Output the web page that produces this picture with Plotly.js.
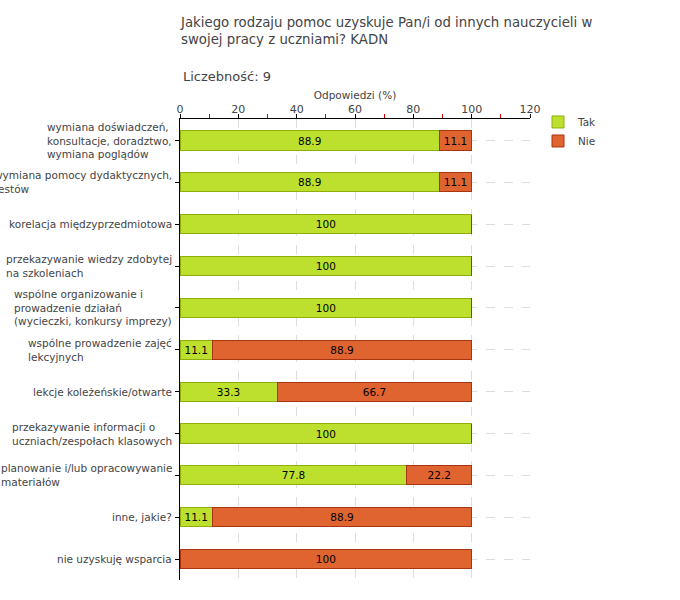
<!DOCTYPE html>
<html><head><meta charset="utf-8">
<script src="https://cdn.plot.ly/plotly-3.0.1.min.js"></script>
<style>html,body{margin:0;padding:0;background:#fff;}#chart{width:680px;height:600px;}</style>
</head><body><div id="chart"></div>
<script>
const categories = [
  "wymiana doświadczeń,<br>konsultacje, doradztwo,<br>wymiana poglądów",
  "wymiana pomocy dydaktycznych,<br>testów",
  "korelacja międzyprzedmiotowa",
  "przekazywanie wiedzy zdobytej<br>na szkoleniach",
  "wspólne organizowanie i<br>prowadzenie działań<br>(wycieczki, konkursy imprezy)",
  "wspólne prowadzenie zajęć<br>lekcyjnych",
  "lekcje koleżeńskie/otwarte",
  "przekazywanie informacji o<br>uczniach/zespołach klasowych",
  "planowanie i/lub opracowywanie<br>materiałów",
  "inne, jakie?",
  "nie uzyskuję wsparcia"
];
const tak = [88.9, 88.9, 100, 100, 100, 11.1, 33.3, 100, 77.8, 11.1, 0];
const nie = [11.1, 11.1, 0, 0, 0, 88.9, 66.7, 0, 22.2, 88.9, 100];
const seriesNames = ["Tak", "Nie"];
const xTicks = [0, 20, 40, 60, 80, 100, 120];

const font = "DejaVu Sans, sans-serif";
const lbl = v => v.map(x => x > 0 ? String(x) : "");

const traces = [
  {type:'bar', orientation:'h', name:seriesNames[0], y:categories, x:tak,
   text:lbl(tak), textposition:'inside', insidetextanchor:'middle', textangle:0,
   textfont:{family:font, size:10.5, color:'#000'},
   marker:{color:'#BDE02F', line:{color:'#8FAE0A', width:1}}},
  {type:'bar', orientation:'h', name:seriesNames[1], y:categories, x:nie,
   text:lbl(nie), textposition:'inside', insidetextanchor:'middle', textangle:0,
   textfont:{family:font, size:10.5, color:'#000'},
   marker:{color:'#E0642F', line:{color:'#A83510', width:1}}}
];

const annotations = categories.map(c => ({
  xref:'paper', yref:'y', x:-0.016, y:c, text:c, showarrow:false,
  xanchor:'right', yanchor:'middle', align:'left',
  font:{family:font, size:10.5, color:'#444'}
}));
annotations.push({xref:'paper', yref:'paper', x:(181-180)/350, y:(119-76)/461 + 1,
  text:"Liczebność: 9", showarrow:false, xanchor:'left', yanchor:'middle',
  font:{family:font, size:13, color:'#444'}});

const layout = {
  width:680, height:600,
  margin:{l:180, r:150, t:119, b:20},
  paper_bgcolor:'#fff', plot_bgcolor:'#fff',
  barmode:'stack', bargap:0.54,
  showlegend:true,
  title:{text:"Jakiego rodzaju pomoc uzyskuje Pan/i od innych nauczycieli w<br>swojej pracy z uczniami? KADN",
    xref:'container', yref:'container', x:181/680, xanchor:'left', y:1-27/600, yanchor:'top',
    font:{family:font, size:13.3, color:'#444'}},
  font:{family:font, color:'#444'},
  xaxis:{side:'top', range:[0,120], tickvals:xTicks, ticktext:xTicks.map(String),
    showline:true, linecolor:'#000', linewidth:1, ticks:'outside', ticklen:4, tickcolor:'#000',
    ticklabelstandoff:-3,
    minor:{tickvals:[10,30,50,70,90,110], ticks:'outside', ticklen:4, tickcolor:'#e00000', showgrid:false},
    showgrid:true, gridcolor:'#dddddd', griddash:'dash', zeroline:false,
    tickfont:{family:font, size:11, color:'#444'},
    title:{text:"Odpowiedzi (%)", font:{family:font, size:10.5, color:'#444'}, standoff:0}},
  yaxis:{autorange:'reversed', type:'category', showticklabels:false,
    showline:true, linecolor:'#000', linewidth:1, ticks:'outside', ticklen:4, tickcolor:'#000',
    showgrid:true, gridcolor:'#dddddd', griddash:'dash', zeroline:false},
  legend:{x:(538-180)/350, xanchor:'left', y:1.025, yanchor:'top', bgcolor:'rgba(0,0,0,0)',
    traceorder:'normal', font:{family:font, size:10.5, color:'#444'}, itemwidth:30, tracegroupgap:0},
  annotations:annotations
};
Plotly.newPlot('chart', traces, layout, {displayModeBar:false, staticPlot:true});
</script></body></html>
